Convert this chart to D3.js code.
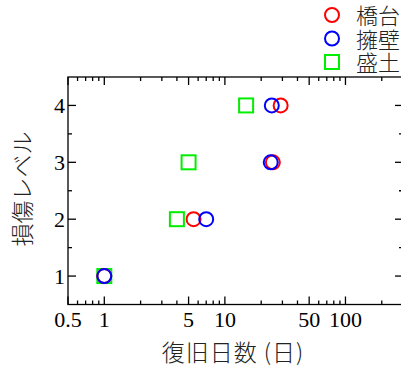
<!DOCTYPE html>
<html>
<head>
<meta charset="utf-8">
<script src="https://cdn.jsdelivr.net/npm/d3@7"></script>
<style>
  body { margin: 0; background: #fff; }
  svg { display: block; }
  .tick-label { font-family: "Liberation Serif", "DejaVu Serif", serif; font-size: 22px; fill: #000; }
  .jp { font-family: "Noto Sans CJK JP", sans-serif; font-size: 22px; font-weight: 300; fill: #222; }
</style>
</head>
<body>
<svg id="vis-svg"></svg>
<script>
// data
const seriesNames = ["橋台", "擁壁", "盛土"];
const seriesColors = ["#ff0000", "#0000ff", "#00ee00"];
const seriesShapes = ["circle", "circle", "square"];
const damageLevels = [1, 2, 3, 4];
const daysKyodai = [1, 5.5, 25, 29];   // 橋台
const daysYoheki = [1, 7, 24, 24.5];   // 擁壁
const daysMorido = [1, 4, 5, 15];      // 盛土
const xTickValues = [0.5, 1, 5, 10, 50, 100];
const yTickValues = [1, 2, 3, 4];

const allDays = [daysKyodai, daysYoheki, daysMorido];

const width = 401, height = 367;
const plotL = 68, plotR = 403, plotT = 77, plotB = 304.5;

const svg = d3.select("#vis-svg")
    .attr("width", width)
    .attr("height", height);

const xScale = d3.scaleLog()
    .domain([0.5, 300])
    .range([plotL, plotR]);

const yScale = d3.scaleLinear()
    .domain([0.5, 4.5])
    .range([plotB, plotT]);

// minor / major ticks on all four sides, pointing in
const xMinor = [];
[0.1, 1, 10, 100].forEach(dec => {
    for (let k = 1; k < 10; k++) {
        const v = +(dec * k).toFixed(3);
        if (v > 0.5 && v < 300 && !xTickValues.includes(v)) xMinor.push(v);
    }
});
const yMinor = [1.5, 2.5, 3.5];

const axes = svg.append("g").attr("stroke", "#000").attr("stroke-width", 1.3);

function xTicks(vals, len) {
    vals.forEach(v => {
        const x = xScale(v);
        axes.append("line").attr("x1", x).attr("x2", x).attr("y1", plotB).attr("y2", plotB - len);
        axes.append("line").attr("x1", x).attr("x2", x).attr("y1", plotT).attr("y2", plotT + len);
    });
}
function yTicks(vals, len) {
    vals.forEach(v => {
        const y = yScale(v);
        axes.append("line").attr("x1", plotL).attr("x2", plotL + len).attr("y1", y).attr("y2", y);
        axes.append("line").attr("x1", plotR).attr("x2", plotR - len).attr("y1", y).attr("y2", y);
    });
}
xTicks(xMinor, 4);
xTicks(xTickValues, 8);
yTicks(yMinor, 4);
yTicks(yTickValues, 8);

axes.append("rect")
    .attr("x", plotL).attr("y", plotT)
    .attr("width", plotR - plotL).attr("height", plotB - plotT)
    .attr("fill", "none");

// tick labels
svg.selectAll("text.xl")
    .data(xTickValues)
    .enter()
        .append("text")
        .attr("class", "tick-label xl")
        .attr("x", d => xScale(d))
        .attr("y", 327)
        .attr("text-anchor", "middle")
        .text(d => d);

svg.selectAll("text.yl")
    .data(yTickValues)
    .enter()
        .append("text")
        .attr("class", "tick-label yl")
        .attr("x", 65)
        .attr("y", d => yScale(d) + 7.5)
        .attr("text-anchor", "end")
        .text(d => d);

// axis titles
svg.append("text")
    .attr("class", "jp")
    .attr("x", 233)
    .attr("y", 361)
    .attr("text-anchor", "middle")
    .style("font-size", "23px")
    .style("letter-spacing", "1px")
    .text("復旧日数 (日)");

svg.append("text")
    .attr("class", "jp")
    .attr("transform", "translate(31, 189) rotate(-90)")
    .attr("text-anchor", "middle")
    .style("font-size", "23px")
    .text("損傷レベル");

// markers
function drawMarker(g, shape, color, x, y) {
    if (shape === "circle") {
        g.append("circle").attr("cx", x).attr("cy", y).attr("r", 7)
            .attr("fill", "none").attr("stroke", color).attr("stroke-width", 2);
    } else {
        g.append("rect").attr("x", x - 7).attr("y", y - 7).attr("width", 14).attr("height", 14)
            .attr("fill", "none").attr("stroke", color).attr("stroke-width", 2);
    }
}

const marks = svg.append("g");
// draw squares first so circles land on top at (1,1)
[2, 0, 1].forEach(i => {
    allDays[i].forEach((d, j) => {
        drawMarker(marks, seriesShapes[i], seriesColors[i], xScale(d), yScale(damageLevels[j]));
    });
});

// legend
const legend = svg.append("g");
seriesNames.forEach((name, i) => {
    const y = 15 + i * 23.5;
    drawMarker(legend, seriesShapes[i], seriesColors[i], 332, y);
    legend.append("text")
        .attr("class", "jp")
        .attr("x", 356)
        .attr("y", y + 9)
        .text(name);
});
</script>
</body>
</html>
